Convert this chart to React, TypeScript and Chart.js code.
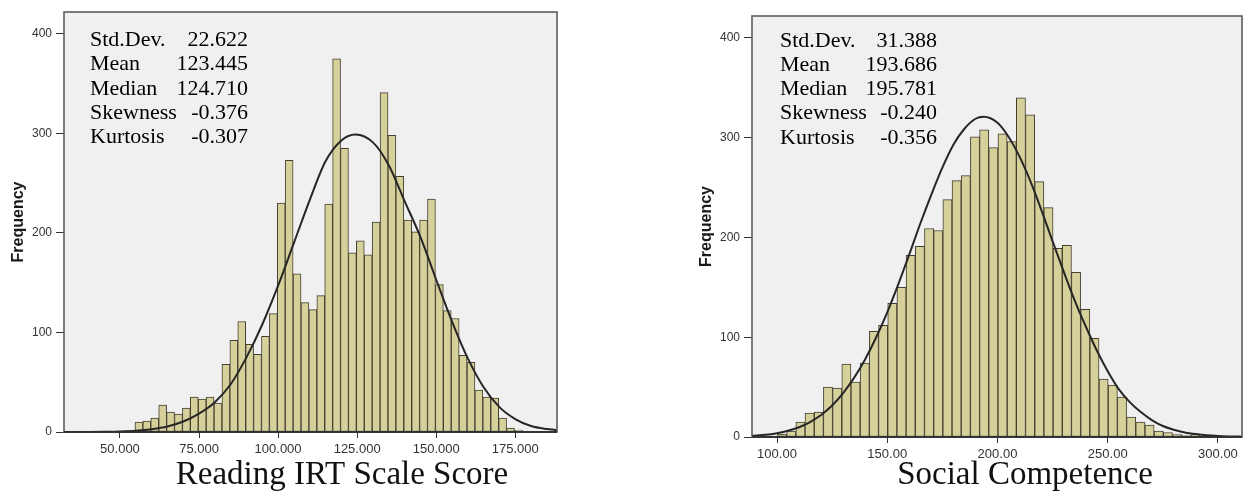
import React, { useEffect, useRef } from "react";
import { Chart, registerables } from "chart.js";

Chart.register(...registerables);

// ---------- Left histogram: Reading IRT Scale Score ----------
const readingBins = [
  56, 58.5, 61, 63.5, 66, 68.5, 71, 73.5, 76, 78.5, 81, 83.5, 86, 88.5, 91, 93.5, 96, 98.5,
  101, 103.5, 106, 108.5, 111, 113.5, 116, 118.5, 121, 123.5, 126, 128.5, 131, 133.5, 136,
  138.5, 141, 143.5, 146, 148.5, 151, 153.5, 156, 158.5, 161, 163.5, 166, 168.5, 171, 173.5, 176,
];
const readingCounts = [
  10, 11, 14, 27, 20, 18, 24, 35, 33, 35, 29, 68, 92, 111, 88, 78, 96, 119, 230, 273, 159, 130,
  123, 137, 229, 375, 285, 180, 192, 178, 211, 341, 298, 257, 213, 201, 213, 234, 148, 122, 114,
  77, 70, 42, 35, 34, 14, 4, 2,
];
const readingCurveX = [
  32.3, 40, 45, 50, 55, 60, 65, 70, 75, 80, 85, 90, 95, 100, 105, 110, 115, 120, 124.5, 130, 135,
  140, 145, 150, 155, 160, 165, 170, 175, 180, 185, 188.2,
];
const readingCurveY = [
  0, 0.1, 0.3, 0.6, 1.3, 2.8, 5.5, 10.5, 18.5, 30, 48, 75, 108, 147, 190, 233, 272, 293, 299, 291,
  268, 232, 196, 153, 111, 74, 45, 25, 13, 6, 3, 2,
];
const readingXTicks = [50, 75, 100, 125, 150, 175];
const readingXTickLabels = ["50.000", "75.000", "100.000", "125.000", "150.000", "175.000"];
const readingStatValues = ["22.622", "123.445", "124.710", "-0.376", "-0.307"];

// ---------- Right histogram: Social Competence ----------
const socialBins = [
  102.3, 106.47, 110.63, 114.8, 118.97, 123.13, 127.3, 131.47, 135.63, 139.8, 143.97, 148.13,
  152.3, 156.47, 160.63, 164.8, 168.97, 173.13, 177.3, 181.47, 185.63, 189.8, 193.97, 198.13,
  202.3, 206.47, 210.63, 214.8, 218.97, 223.13, 227.3, 231.47, 235.63, 239.8, 243.97, 248.13,
  252.3, 256.47, 260.63, 264.8, 268.97, 273.13, 277.3, 281.47, 285.63, 289.8,
];
const socialCounts = [
  3, 6, 15, 24, 25, 50, 49, 73, 55, 74, 106, 112, 134, 150, 182, 191, 209, 207, 238, 257, 262, 301,
  308, 290, 304, 296, 340, 323, 256, 230, 189, 192, 165, 128, 99, 58, 52, 40, 20, 15, 12, 6, 4.5,
  2.5, 1.5, 2.5,
];
const socialCurveX = [
  88.7, 95, 100, 105, 110, 115, 120, 125, 130, 135, 140, 145, 150, 155, 160, 165, 170, 175, 180,
  185, 190, 193.7, 200, 205, 210, 215, 220, 225, 230, 235, 240, 245, 250, 255, 260, 265, 270, 275,
  280, 285, 290, 295, 300, 305, 310.9,
];
const socialCurveY = [
  1.3, 2.2, 3.8, 6.2, 9.8, 15, 22, 31.5, 44, 59.5, 78, 100, 125, 153, 183, 214, 243, 270, 293, 309,
  319, 321, 315, 301, 281, 256, 227, 196, 166, 137, 111, 87, 66, 48, 35, 25, 17, 11, 7.3, 4.6, 2.9,
  1.7, 1.0, 0.6, 0.3,
];
const socialXTicks = [100, 150, 200, 250, 300];
const socialXTickLabels = ["100.00", "150.00", "200.00", "250.00", "300.00"];
const socialStatValues = ["31.388", "193.686", "195.781", "-0.240", "-0.356"];

// ---------- shared ----------
const yTicks = [0, 100, 200, 300, 400];
const yTickLabels = ["0", "100", "200", "300", "400"];
const statLabels = ["Std.Dev.", "Mean", "Median", "Skewness", "Kurtosis"];

const SANS = '"Liberation Sans", Arial, sans-serif';
const SERIF = '"Liberation Serif", "Times New Roman", serif';

type PanelCfg = {
  bins: number[];
  counts: number[];
  curveX: number[];
  curveY: number[];
  xTicks: number[];
  xTickLabels: string[];
  statValues: string[];
  xTitle: string;
  xMin: number;
  xMax: number;
  yMax: number;
  width: number;
  pad: { left: number; right: number; top: number };
  xAxisHeight: number;
  statLabelX: number;
  statValueX: number;
  statBaselines: number[];
  titleX: number;
  titleBaseline: number;
};

function makeOverlay(cfg: PanelCfg) {
  return {
    id: "overlay",
    beforeDraw(chart: any) {
      const { ctx, chartArea } = chart;
      const { left, top, right, bottom } = chartArea;
      ctx.save();
      ctx.fillStyle = "#ffffff";
      ctx.fillRect(0, 0, chart.width, chart.height);
      ctx.fillStyle = "#f0f0f0";
      ctx.fillRect(left, top, right - left, bottom - top);
      ctx.restore();
    },
    afterDatasetsDraw(chart: any) {
      const { ctx, chartArea } = chart;
      const { left, top, right, bottom } = chartArea;
      ctx.save();
      ctx.strokeStyle = "#666666";
      ctx.lineWidth = 1.7;
      ctx.strokeRect(left, top, right - left, bottom - top);
      ctx.strokeStyle = "#1e1e1e";
      ctx.lineWidth = 1.7;
      ctx.beginPath();
      ctx.moveTo(left, bottom);
      ctx.lineTo(right, bottom);
      ctx.stroke();
      ctx.restore();
    },
    afterDraw(chart: any) {
      const { ctx } = chart;
      ctx.save();
      ctx.fillStyle = "#000";
      ctx.font = `22px ${SERIF}`;
      ctx.textBaseline = "alphabetic";
      statLabels.forEach((lab, i) => {
        ctx.textAlign = "left";
        ctx.fillText(lab, cfg.statLabelX, cfg.statBaselines[i]);
        ctx.textAlign = "right";
        ctx.fillText(cfg.statValues[i], cfg.statValueX, cfg.statBaselines[i]);
      });
      ctx.fillStyle = "#111";
      ctx.font = `33px ${SERIF}`;
      ctx.textAlign = "center";
      ctx.fillText(cfg.xTitle, cfg.titleX, cfg.titleBaseline);
      ctx.restore();
    },
  };
}

function Panel({ cfg, left }: { cfg: PanelCfg; left: number }) {
  const ref = useRef<HTMLCanvasElement | null>(null);
  useEffect(() => {
    if (!ref.current) return;
    const chart = new Chart(ref.current, {
      type: "bar",
      data: {
        datasets: [
          {
            type: "line",
            data: cfg.curveX.map((x, i) => ({ x, y: cfg.curveY[i] })),
            borderColor: "#262626",
            borderWidth: 2,
            pointRadius: 0,
            fill: false,
            cubicInterpolationMode: "monotone",
            order: 0,
          } as any,
          {
            type: "bar",
            data: cfg.bins.map((x, i) => ({ x, y: cfg.counts[i] })),
            backgroundColor: "#d6d09b",
            borderColor: "#443f30",
            borderWidth: 1,
            borderSkipped: false,
            barPercentage: 1,
            categoryPercentage: 1,
            order: 1,
          } as any,
        ],
      },
      options: {
        animation: false,
        responsive: false,
        devicePixelRatio: 1,
        layout: { padding: { left: cfg.pad.left, right: cfg.pad.right, top: cfg.pad.top, bottom: 0 } },
        plugins: { legend: { display: false }, tooltip: { enabled: false } },
        scales: {
          x: {
            type: "linear",
            min: cfg.xMin,
            max: cfg.xMax,
            offset: false,
            afterBuildTicks: (s: any) => {
              s.ticks = cfg.xTicks.map((v) => ({ value: v }));
            },
            afterFit: (s: any) => {
              s.height = cfg.xAxisHeight;
            },
            ticks: {
              autoSkip: false,
              maxRotation: 0,
              padding: 4,
              color: "#333",
              font: { family: SANS, size: 13 },
              callback: (v: any) => cfg.xTickLabels[cfg.xTicks.indexOf(Number(v))] ?? "",
            },
            grid: { drawOnChartArea: false, drawTicks: true, tickLength: 6, color: "#333", offset: false },
            border: { display: false },
          } as any,
          y: {
            type: "linear",
            min: 0,
            max: cfg.yMax,
            afterBuildTicks: (s: any) => {
              s.ticks = yTicks.map((v) => ({ value: v }));
            },
            afterFit: (s: any) => {
              s.width = 64;
            },
            ticks: {
              padding: 4,
              color: "#333",
              font: { family: SANS, size: 12 },
              callback: (v: any) => yTickLabels[yTicks.indexOf(Number(v))] ?? "",
            },
            grid: { drawOnChartArea: false, drawTicks: true, tickLength: 8, color: "#333" },
            border: { display: false },
            title: {
              display: true,
              text: "Frequency",
              color: "#1a1a1a",
              font: { family: SANS, size: 16, weight: "bold" },
              padding: { top: 9, bottom: 0 },
            },
          } as any,
        },
      },
      plugins: [makeOverlay(cfg)],
    });
    return () => chart.destroy();
  }, [cfg]);
  return (
    <canvas
      ref={ref}
      width={cfg.width}
      height={491}
      style={{ position: "absolute", left, top: 0, width: cfg.width, height: 491 }}
    />
  );
}

const readingCfg: PanelCfg = {
  bins: readingBins,
  counts: readingCounts,
  curveX: readingCurveX,
  curveY: readingCurveY,
  xTicks: readingXTicks,
  xTickLabels: readingXTickLabels,
  statValues: readingStatValues,
  xTitle: "Reading IRT Scale Score",
  xMin: 32.3,
  xMax: 188.2,
  yMax: 422,
  width: 620,
  pad: { left: 0, right: 63, top: 12 },
  xAxisHeight: 59,
  statLabelX: 90,
  statValueX: 248,
  statBaselines: [46, 70, 94.5, 118.5, 143],
  titleX: 342,
  titleBaseline: 484,
};

const socialCfg: PanelCfg = {
  bins: socialBins,
  counts: socialCounts,
  curveX: socialCurveX,
  curveY: socialCurveY,
  xTicks: socialXTicks,
  xTickLabels: socialXTickLabels,
  statValues: socialStatValues,
  xTitle: "Social Competence",
  xMin: 88.66,
  xMax: 310.9,
  yMax: 422,
  width: 625,
  pad: { left: 68, right: 3, top: 16 },
  xAxisHeight: 54,
  statLabelX: 160,
  statValueX: 317,
  statBaselines: [47, 70.5, 95, 119, 143.5],
  titleX: 405,
  titleBaseline: 484,
};

export default function App() {
  return (
    <div
      style={{
        position: "absolute",
        left: 0,
        top: 0,
        width: 1245,
        height: 491,
        background: "#ffffff",
        overflow: "hidden",
      }}
    >
      <Panel cfg={readingCfg} left={0} />
      <Panel cfg={socialCfg} left={620} />
    </div>
  );
}
